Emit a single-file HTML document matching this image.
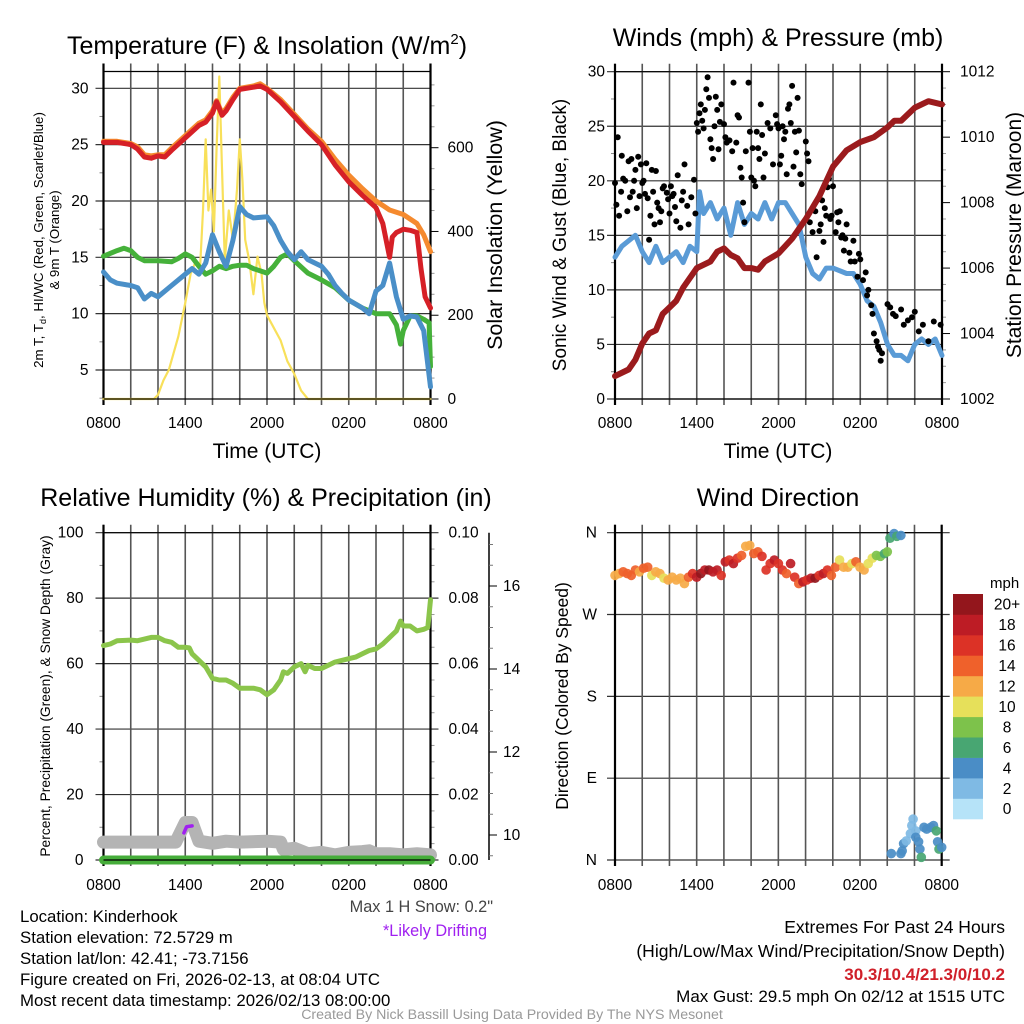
<!DOCTYPE html>
<html><head><meta charset="utf-8"><style>
html,body{margin:0;padding:0;background:#fff}
svg{display:block;font-family:"Liberation Sans",sans-serif}
</style></head><body>
<svg id="fig" width="1024" height="1024" viewBox="0 0 1024 1024" xmlns="http://www.w3.org/2000/svg">
<g fill="#000">
<text x="267" y="54" font-size="25" text-anchor="middle">Temperature (F) &amp; Insolation (W/m<tspan font-size="15" dy="-10">2</tspan><tspan dy="10">)</tspan></text>
<text x="778" y="46" font-size="25" text-anchor="middle">Winds (mph) &amp; Pressure (mb)</text>
<text x="266" y="506" font-size="25" text-anchor="middle">Relative Humidity (%) &amp; Precipitation (in)</text>
<text x="778" y="506" font-size="25" text-anchor="middle">Wind Direction</text>
<text x="267" y="458" font-size="21" text-anchor="middle">Time (UTC)</text>
<text x="778" y="458" font-size="21" text-anchor="middle">Time (UTC)</text>
<text transform="translate(43,240) rotate(-90)" font-size="13.3" text-anchor="middle">2m T, T<tspan font-size="9" dy="3">d</tspan><tspan dy="-3">, HI/WC (Red, Green, Scarlet/Blue)</tspan></text>
<text transform="translate(59,240) rotate(-90)" font-size="13.3" text-anchor="middle">&amp; 9m T (Orange)</text>
<text transform="translate(502,235) rotate(-90)" font-size="21.5" text-anchor="middle">Solar Insolation (Yellow)</text>
<text transform="translate(566,235) rotate(-90)" font-size="19" text-anchor="middle">Sonic Wind &amp; Gust (Blue, Black)</text>
<text transform="translate(1021,235) rotate(-90)" font-size="21" text-anchor="middle">Station Pressure (Maroon)</text>
<text transform="translate(50,696) rotate(-90)" font-size="13.8" text-anchor="middle">Percent, Precipitation (Green), &amp; Snow Depth (Gray)</text>
<text transform="translate(568,696) rotate(-90)" font-size="17.5" text-anchor="middle">Direction (Colored By Speed)</text>
<text x="990" y="588" font-size="15" text-anchor="start">mph</text>
</g>
<g font-size="16.8" fill="#000">
<text x="20" y="922">Location: Kinderhook</text>
<text x="20" y="943">Station elevation: 72.5729 m</text>
<text x="20" y="964">Station lat/lon: 42.41; -73.7156</text>
<text x="20" y="985">Figure created on Fri, 2026-02-13, at 08:04 UTC</text>
<text x="20" y="1006">Most recent data timestamp: 2026/02/13 08:00:00</text>
<text x="493" y="912" text-anchor="end" fill="#444" font-size="16.3">Max 1 H Snow: 0.2"</text>
<text x="487" y="936" text-anchor="end" fill="#a020f0" font-size="16.3">*Likely Drifting</text>
<text x="1005" y="933" text-anchor="end" font-size="17.5">Extremes For Past 24 Hours</text>
<text x="1005" y="957" text-anchor="end" font-size="17.5">(High/Low/Max Wind/Precipitation/Snow Depth)</text>
<text x="1005" y="980" text-anchor="end" fill="#d0202a" font-weight="bold" font-size="17">30.3/10.4/21.3/0/10.2</text>
<text x="1005" y="1002" text-anchor="end" font-size="17">Max Gust: 29.5 mph On 02/12 at 1515 UTC</text>
<text x="512" y="1019" text-anchor="middle" font-size="14.2" fill="#999">Created By Nick Bassill Using Data Provided By The NYS Mesonet</text>
</g>
</svg>
<script>
// ---------- data ----------
const timeTickLabels = ["0800","1400","2000","0200","0800"];
const timeTickHours = [0,6,12,18,24];
const tempTicks = [5,10,15,20,25,30];
const solarTicks = [0,200,400,600];
const windTicks = [0,5,10,15,20,25,30];
const presTicks = [1002,1004,1006,1008,1010,1012];
const rhTicks = [0,20,40,60,80,100];
const precipTicks = ["0.00","0.02","0.04","0.06","0.08","0.10"];
const snowTicks = [10,12,14,16];
const dirTickLabels = ["N","E","S","W","N"];
const dirTickValues = [0,90,180,270,360];
const speedBinLabels = ["0","2","4","6","8","10","12","14","16","18","20+"];
const speedBinColors = ["#b6e3f8","#7fbae4","#4a8dc6","#48a672","#7dc24b","#e6e05a","#f6aa47","#ef612b","#dc3226","#bd1c25","#93161c"];

const redT = [0,1,2,2.5,3,3.5,4,4.5,5,6,7,7.5,8,8.3,8.7,9,9.5,10,11,11.5,12,13,14,15,16,17,18,19,20,20.5,21,21.2,21.5,22,22.5,23,23.3,23.6,24];
const redV = [25.2,25.2,25.0,24.6,23.9,23.8,24.0,23.9,24.5,25.6,26.7,27.0,27.8,28.8,27.6,28.0,29.0,29.9,30.1,30.2,29.9,28.8,27.5,26.2,25.0,23.2,21.7,20.5,19.4,18.0,15.0,16.8,17.2,17.5,17.4,17.2,14.0,11.5,10.5];
const orangeT = [0,1,2,2.5,3,3.5,4,4.5,5,6,7,7.5,8,8.3,8.7,9,9.5,10,11,11.5,12,13,14,15,16,17,18,19,20,21,22,23,23.5,24];
const orangeV = [25.3,25.3,25.1,24.8,24.1,24.0,24.1,24.1,24.7,25.8,26.9,27.2,28.0,28.9,27.8,28.2,29.2,30.0,30.2,30.4,30.0,29.0,27.7,26.4,25.3,23.7,22.3,21.1,20.0,19.2,18.8,18.0,17.0,15.5];
const greenT = [0,1,1.5,2,2.5,3,4,5,5.5,6,6.5,7,7.5,8,8.5,9,9.5,10,10.5,11,12,12.5,13,13.5,14,15,16,17,18,19,20,21,21.5,21.8,22,22.5,23,23.5,23.9,24];
const greenV = [15.1,15.6,15.8,15.6,15.0,14.7,14.7,14.6,14.9,15.3,15.0,14.2,13.5,13.8,14.2,14.0,14.2,14.3,14.3,14.0,13.6,14.2,15.0,15.3,14.7,13.6,13.0,12.3,11.2,10.5,10.0,10.0,9.0,7.3,8.5,9.8,9.8,9.5,9.2,5.3];
const blueT = [0,0.5,1,2,2.5,3,3.5,4,5,6,6.5,7,7.5,8,8.5,9,9.5,10,10.5,11,12,12.5,13,13.5,14,14.5,15,16,16.5,17,17.5,18,19,19.5,20,20.5,21,21.5,22,22.5,23,23.5,24];
const blueV = [13.7,13.0,12.7,12.5,12.3,11.3,11.8,11.5,12.5,13.5,14.0,13.5,14.5,17.0,15.5,14.2,16.5,19.5,18.8,18.5,18.6,17.8,16.5,15.5,14.8,15.5,14.8,14.2,13.5,12.5,11.8,11.2,10.5,10.0,12.0,12.5,14.5,11.5,9.5,9.8,9.7,8.5,3.5];
const solarT = [0,3.7,4,4.4,4.8,5.5,6,6.4,6.8,7.1,7.3,7.5,7.7,7.9,8.1,8.3,8.5,8.7,8.9,9.2,9.5,9.8,10,10.2,10.4,10.7,11,11.3,11.6,11.8,12,12.5,13,13.5,14,14.5,15,24];
const solarV = [0,0,10,45,70,150,230,300,330,320,450,620,450,500,400,600,770,550,330,450,380,500,620,520,380,330,250,340,300,230,200,170,140,90,60,20,0,0];

const sonicT = [0,0.5,1,1.5,2,2.5,3,3.5,4,4.5,5,5.5,6,6.2,6.5,7,7.5,8,8.5,9,9.5,10,10.5,11,11.5,12,12.5,13,13.5,14,14.5,15,15.5,16,17,17.5,18,18.5,19,19.5,20,20.5,21,21.5,22,22.5,23,23.5,24];
const sonicV = [13,14,14.5,15,13.5,12.5,14,12.5,13,13.5,12.5,14,13.5,19,17,18,16.5,17.5,15,18,16,17,16.5,18,16.5,18,18,17,16,13,11.5,11,12,12,11.5,11.5,10.5,9,8.5,7,5,4,4,3.5,5,5.5,5,5.5,4];
const gustT = [0,0.1,0.2,0.3,0.45,0.5,0.6,0.75,0.9,
1.0,1.1,1.2,1.3,1.4,1.5,1.6,1.7,1.8,1.9,2.0,2.1,2.2,2.3,2.4,2.5,2.6,2.7,2.8,2.9,
3.0,3.1,3.2,3.3,3.4,3.5,3.6,3.8,3.9,4.0,4.1,4.2,4.3,4.4,4.5,4.6,4.8,4.9,5.0,5.1,5.3,5.4,5.6,5.8,5.9,
6.0,6.1,6.2,6.3,6.4,6.5,6.6,6.7,6.8,6.9,7.0,7.1,7.2,7.3,7.4,7.5,7.6,7.7,7.8,8.0,8.1,8.2,8.4,8.6,8.7,
8.9,9.0,9.1,9.2,9.3,9.4,9.5,9.6,9.8,9.9,10.0,10.1,10.2,10.3,10.4,10.5,10.6,10.7,10.8,10.9,11.0,11.2,11.4,11.6,
11.8,11.9,12.0,12.1,12.2,12.3,12.4,12.5,12.6,12.7,12.8,12.9,13.0,13.1,13.2,13.3,13.4,13.5,13.6,13.7,14.0,14.1,14.2,14.3,14.5,
14.7,14.8,15.0,15.1,15.2,15.3,15.4,15.5,15.6,15.7,15.8,15.9,16.0,16.2,16.3,16.4,16.5,16.6,16.7,16.8,16.9,17.0,17.2,17.3,
17.5,17.6,17.8,17.9,18.0,18.2,18.4,18.5,18.6,18.8,18.9,19.0,19.2,19.3,19.4,19.5,19.6,
20.0,20.2,20.4,20.6,21.0,21.2,21.5,21.8,22.0,22.3,22.6,23.0,23.4,23.9];
const gustV = [19.8,17.8,24,16.8,19,22.3,20.2,20,17.2,
21.8,18.5,22,19,20,21,17.5,22.2,18.6,21.5,19.8,20,18.8,21.6,18.4,14.6,16.8,21,19,16,
20.9,18,17.5,16.2,17.2,19.3,19.5,18.9,18.3,17,19.5,18.6,18.8,17.6,16.3,20.5,15.7,18.2,19,21.5,17.7,16,18.5,20.1,17,
25.3,24.5,26.2,27,25.5,24.8,26.5,28.4,29.5,27.6,23.8,23,22,25,27.7,26.5,22.9,25.4,27,25.2,24,23.5,23.7,22.7,29,
23.5,26,25.8,21.2,20.3,18,16.2,22.7,29,24.5,20.3,23,20,19.5,24.5,23,22,27,24.2,20.3,22.5,25.3,24.8,21.5,
26,25.2,24.8,21.5,22.3,25,23.8,24.5,20.6,26.6,27,25.3,28.7,21.3,24.5,22.6,27.6,24.6,20.6,19.7,23.6,22.5,21.8,16.2,15.3,
17.2,13,15.4,16,18.2,14.4,17.5,16.8,19.4,20.2,16.5,16.8,19.5,15.3,17.1,16.2,17.2,14.8,15,13.6,14.7,16,13.4,12.6,
14.5,12.6,11.2,13.3,12.8,10.9,11.6,9.5,10,8.6,7.8,6,5.3,4.8,4.5,3.5,4.2,
8.7,8.4,7.8,7.6,8.2,6.8,7.2,7.5,8,6.2,6.8,5.3,7.1,6.8];
const presT = [0,1,1.5,2,2.5,3,3.5,4,4.5,5,5.5,6,7,7.5,8,8.5,9,9.5,10,10.5,11,12,13,14,15,16,17,18,19,20,20.5,21,22,23,24];
const presV = [1002.7,1002.9,1003.2,1003.7,1004.0,1004.1,1004.6,1004.8,1005.0,1005.4,1005.7,1006.0,1006.2,1006.5,1006.6,1006.4,1006.3,1006.0,1006.0,1005.95,1006.2,1006.45,1006.9,1007.5,1008.2,1009.1,1009.6,1009.85,1010.0,1010.3,1010.5,1010.5,1010.9,1011.1,1011.0];

const rhT = [0,0.5,1,2,2.5,3,3.5,4,4.5,5,5.5,6,6.3,6.5,7,7.5,8,8.5,9,9.5,10,10.5,11,11.5,12,12.5,13,13.2,13.5,14,14.5,14.8,15,15.5,16,16.5,17,18,18.5,19,19.5,20,20.5,21,21.5,21.8,22,22.5,23,23.5,23.8,24];
const rhV = [65.5,66,67,67.2,67,67.5,68,68,67,66.5,65,65,64.8,63,61,59,55.5,55,55,54,52.5,52.5,52.5,52,50.5,52,55,57.5,57,59,60,57.5,59.5,58.5,58.5,59.5,60.5,61.5,62,63,64,64.5,66,68,70,73,71.5,71.5,70,70.5,71,79.5];
const precipT = [0,24];
const precipV = [0,0];
const snowT = [0,5.3,6,6.5,7,8,9,10,12,13,13.2,14,15,16,17,18,19,19.5,20,21,22,23,24];
const snowV = [9.83,9.83,10.3,10.3,9.85,9.8,9.85,9.83,9.85,9.83,9.65,9.68,9.55,9.58,9.52,9.58,9.6,9.62,9.55,9.55,9.52,9.55,9.52];
const driftT = [5.9,6.1,6.5];
const driftV = [10.05,10.2,10.22];

const dirT = [0,0.3,0.6,0.9,1.2,1.5,1.8,2.1,2.4,2.7,3.0,3.3,3.6,3.9,4.2,4.5,4.8,5.1,5.4,5.7,6.0,6.3,6.6,6.9,7.2,7.5,7.8,8.1,8.4,8.7,9.0,9.3,9.6,9.9,10.2,10.5,10.8,11.1,11.4,11.7,12.0,12.3,12.6,12.9,13.2,13.5,13.8,14.1,14.4,14.7,15.0,15.3,15.6,15.9,16.2,16.5,16.8,17.1,17.4,17.7,18.0,18.3,18.6,18.9,19.2,19.5,19.8,
20.0,20.2,20.5,20.7,21.0,
20.3,21.0,21.1,21.2,21.4,21.7,21.8,21.9,22.1,22.1,22.3,22.4,22.5,22.7,22.9,23.2,23.4,23.6,23.7,23.8,24.0];
const dirV = [313,315,317,315,313,319,317,321,322,313,317,315,310,308,311,308,310,304,311,315,311,315,319,319,317,319,313,328,330,326,332,335,345,346,337,339,334,319,326,330,326,319,315,326,311,304,306,308,310,310,313,315,319,313,322,330,322,322,326,328,322,319,326,332,335,334,337,
339,354,359,356,357,
7,7,10,18,21,29,38,45,32,25,20,12,3,36,34,36,38,32,20,12,14];
const dirS = [13,13,14,15,14,15,13,14,15,11,12,13,11,13,12,12,13,12,14,17,18,20,19,20,19,18,17,18,17,18,16,14,13,12,15,15,17,17,16,18,17,16,14,18,17,15,18,16,18,20,17,18,16,15,14,11,12,13,10,14,13,12,11,10,8,9,7,
8,6,4,6,4,
4,4,4,4,2,2,2,2,2,4,4,4,6,4,4,4,4,6,4,6,4];

// ---------- helpers ----------
const NS = 'http://www.w3.org/2000/svg';
const svg = document.getElementById('fig');
function mk(tag, attrs, parent){
  const e = document.createElementNS(NS, tag);
  for (const k in attrs) e.setAttribute(k, attrs[k]);
  (parent || svg).appendChild(e);
  return e;
}
function linScale(d0, d1, r0, r1){ return v => r0 + (v - d0) * (r1 - r0) / (d1 - d0); }
function pts(ts, vs, xs, ys){ return ts.map((t,i)=> xs(t).toFixed(1)+','+ys(vs[i]).toFixed(1)).join(' '); }
function line(ts, vs, xs, ys, color, w, name){
  const p = mk('polyline', {points: pts(ts,vs,xs,ys), fill:'none', stroke:color, 'stroke-width':w, 'stroke-linejoin':'round', 'stroke-linecap':'round'});
  
  
  return p;
}
function txt(x, y, s, size, anchor, name){
  const t = mk('text', {x:x, y:y, 'font-size':size, 'text-anchor':anchor});
  t.textContent = s;
  
  
  return t;
}
function seg(x1,y1,x2,y2,color,w,name){
  const l = mk('line',{x1:x1,y1:y1,x2:x2,y2:y2,stroke:color,'stroke-width':w});
  
  
  return l;
}
function frame(x0,x1,yT,yB,xs,labelY,prefix){
  for (let h=0; h<=24; h+=2){
    seg(xs(h), yT-8, xs(h), yB+6, '#555', 1.6, prefix+'-vgrid');
  }
  timeTickHours.forEach((h,i)=>{
    txt(xs(h), labelY, timeTickLabels[i], 15.5, 'middle', prefix+'-x-tick-label');
  });
  seg(x0, yT, x1, yT, '#000', 1.2, prefix+'-top-border');
  seg(x0, yT-8, x0, yB+6, '#000', 2.2, prefix+'-left-border');
  seg(x1, yT-8, x1, yB+6, '#000', 2.2, prefix+'-right-border');
}

// ---------- Panel 1: temperature ----------
{
  const x0=103.5, x1=430.5, yT=71.5, yB=399;
  const xs = linScale(0,24,x0,x1);
  const ys = linScale(5,30,370,88.3);
  const ss = linScale(0,600,399,147.7);
  tempTicks.forEach(v=>{
    seg(x0-8, ys(v), x1, ys(v), '#333', 1.2, 'temp-hgrid');
    txt(x0-15, ys(v)+5, String(v), 15.5, 'end', 'temp-y-tick-label');
  });
  for (let v=2.5; v<32; v+=2.5){ if (v%5) seg(x0-4, ys(v), x0, ys(v), '#888', 1, 'temp-minor-tick'); }
  for (let s=0; s<=750; s+=50){ seg(x1, ss(s), x1+(s%200===0?8:4), ss(s), s%200===0?'#000':'#999', 1, 'solar-tick'); }
  solarTicks.forEach(s=> txt(x1+17, ss(s)+5, String(s), 15.5, 'start', 'solar-y-tick-label'));
  frame(x0,x1,yT,yB,xs,428,'temp');
  line(solarT, solarV, xs, ss, '#f8e05a', 2.2, 'solar-insolation-line');
  line(greenT, greenV, xs, ys, '#45b13a', 5, 'dewpoint-line');
  line(blueT, blueV, xs, ys, '#4a8fc8', 5, 'windchill-line');
  line(orangeT, orangeV, xs, ys, '#f58a2e', 5, 'temp-9m-line');
  line(redT, redV, xs, ys, '#d62027', 5, 'temp-2m-line');
  seg(x0, yB, x1, yB, '#000', 1.2, 'temp-bottom-border');
}

// ---------- Panel 2: winds ----------
{
  const x0=615, x1=942, yT=71.7, yB=399;
  const xs = linScale(0,24,x0,x1);
  const ys = linScale(0,30,399,71.7);
  const ps = linScale(1002,1012,399,71.7);
  windTicks.forEach(v=>{
    seg(x0-8, ys(v), x1, ys(v), '#333', 1.2, 'wind-hgrid');
    txt(x0-10, ys(v)+5, String(v), 15.5, 'end', 'wind-y-tick-label');
  });
  for (let v=2.5; v<30; v+=5){ seg(x0-4, ys(v), x0, ys(v), '#888', 1, 'wind-minor-tick'); }
  for (let p=1002; p<=1012.01; p+=0.5){ const major = Math.abs(p-Math.round(p/2)*2)<0.01; seg(x1, ps(p), x1+(major?8:4), ps(p), major?'#000':'#999', 1, 'pressure-tick'); }
  presTicks.forEach(p=> txt(x1+18, ps(p)+5, String(p), 15.5, 'start', 'pressure-y-tick-label'));
  frame(x0,x1,yT,yB,xs,428,'wind');
  line(sonicT, sonicV, xs, ys, '#5a9bd6', 5, 'sonic-wind-line');
  gustT.forEach((t,i)=>{
    const c = mk('circle',{cx:xs(t).toFixed(1), cy:ys(gustV[i]).toFixed(1), r:3, fill:'#000'});
    
    
  });
  line(presT, presV, xs, ps, '#9b1b1d', 6, 'pressure-line');
  seg(x0, yB, x1, yB, '#000', 1.2, 'wind-bottom-border');
}

// ---------- Panel 3: humidity ----------
{
  const x0=103.5, x1=430.5, yT=532.7, yB=860;
  const xs = linScale(0,24,x0,x1);
  const ys = linScale(0,100,860,532.7);
  const sn = linScale(10,16,835,586);
  rhTicks.forEach((v,i)=>{
    seg(x0-8, ys(v), x1+8, ys(v), '#333', 1.2, 'rh-hgrid');
    txt(x0-20, ys(v)+5, String(v), 15.5, 'end', 'rh-y-tick-label');
    txt(x1+18, ys(v)+5, precipTicks[i], 15.5, 'start', 'precip-y-tick-label');
  });
  for (let v=10; v<100; v+=20){ seg(x0-4, ys(v), x0, ys(v), '#888', 1, 'rh-minor-tick'); }
  for (let v=5; v<100; v+=5){ if (v%20) seg(x1, ys(v), x1+4, ys(v), '#999', 1, 'precip-minor-tick'); }
  seg(489, 532.7, 489, 860, '#000', 1.5, 'snow-axis-line');
  for (let s=9.5; s<=17; s+=0.5){ const y = sn(s); if (y<532 || y>860) continue; const major = s%2===0; seg(489, y, 489+(major?8:4), y, major?'#000':'#777', 1, 'snow-tick'); }
  snowTicks.forEach(s=> txt(503, sn(s)+5, String(s), 15.5, 'start', 'snow-y-tick-label'));
  frame(x0,x1,yT,yB,xs,890,'rh');
  line(rhT, rhV, xs, ys, '#8bc54b', 5, 'relative-humidity-line');
  line(snowT, snowV, xs, sn, '#b4b4b4', 13, 'snow-depth-line');
  line(driftT, driftV, xs, sn, '#a020f0', 3.5, 'drifting-snow-line');
  const ps = linScale(0,0.1,860,532.7);
  line(precipT, precipV, xs, ps, '#46ad3a', 9, 'precipitation-line');
  seg(x0, yB, x1, yB, '#000', 1.2, 'rh-bottom-border');
}

// ---------- Panel 4: direction ----------
{
  const x0=615, x1=941.7, yT=532.7, yB=860;
  const xs = linScale(0,24,x0,x1);
  const ys = linScale(0,360,860,532.7);
  dirTickValues.forEach((d,i)=>{
    seg(x0-8, ys(d), x1+8, ys(d), '#333', 1.2, 'direction-hgrid');
    txt(x0-18, ys(d)+5, dirTickLabels[i], 15.5, 'end', 'direction-y-tick-label');
  });
  frame(x0,x1,yT,yB,xs,890,'direction');
  function binColor(s){ const idx = Math.min(10, Math.floor(s/2)); return speedBinColors[idx]; }
  dirT.forEach((t,i)=>{
    const c = mk('circle',{cx:xs(t).toFixed(1), cy:ys(dirV[i]).toFixed(1), r:4.8, fill:binColor(dirS[i]), 'fill-opacity':0.92});
    
    
  });
  const cbX = 953, cbTop = 594, cbH = 20.45;
  speedBinColors.forEach((col,i)=>{
    const y = cbTop + (10-i)*cbH;
    const r = mk('rect',{x:cbX, y:y.toFixed(1), width:30, height:(cbH+0.3).toFixed(1), fill:col});
    
    
    txt(1007, y+cbH/2+5.5, speedBinLabels[i], 15.5, 'middle', 'colorbar-label');
  });
}
</script>
</body></html>
